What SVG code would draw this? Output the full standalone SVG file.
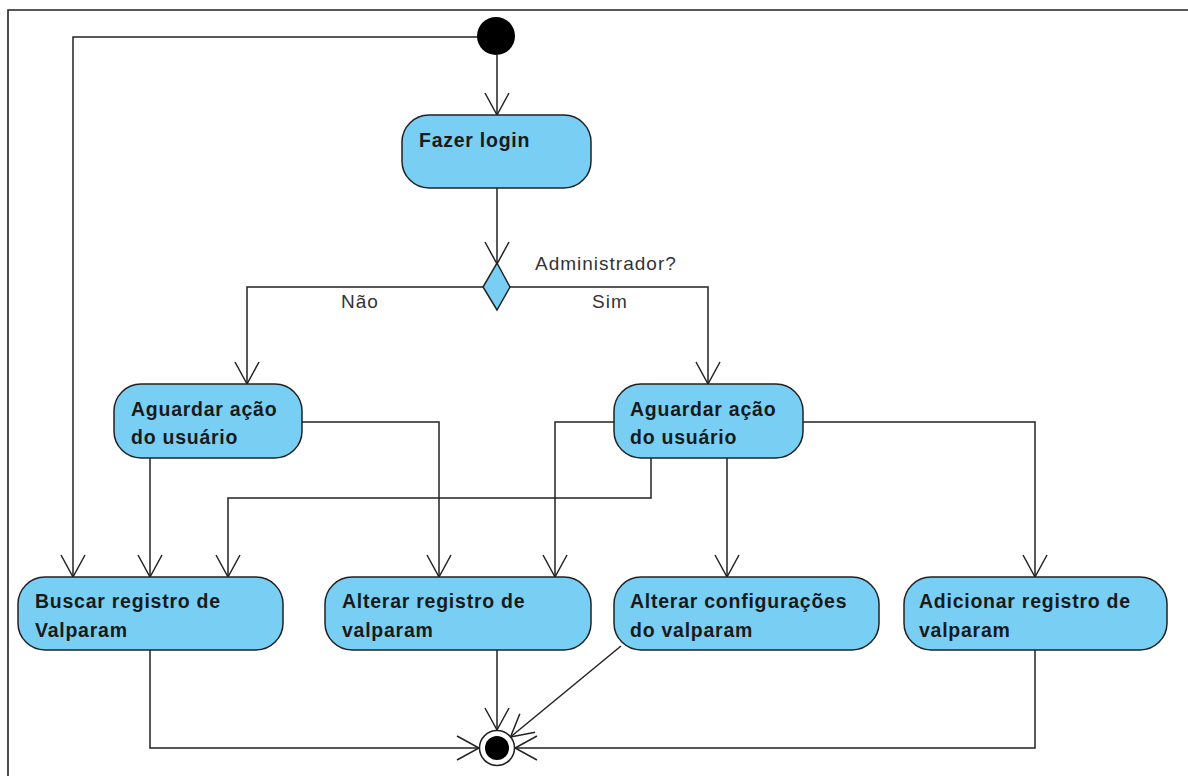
<svg xmlns="http://www.w3.org/2000/svg" width="1188" height="776" viewBox="0 0 1188 776">
  <style>
    .frame { fill: none; stroke: #222; stroke-width: 1.6; }
    .action { fill: #79CFF3; stroke: #222; stroke-width: 1.5; }
    .label { font-family: "Liberation Sans", Arial, sans-serif; font-size: 19.5px; font-weight: bold; fill: #1a1a1a; letter-spacing: 0.75px; }
    .guard { font-family: "Liberation Sans", Arial, sans-serif; font-size: 19px; fill: #333; letter-spacing: 1px; }
    .flow { fill: none; stroke: #222; stroke-width: 1.5; marker-end: url(#open); }
  </style>
  <defs>
    <marker id="open" markerUnits="userSpaceOnUse" viewBox="-24 -14 26 28" markerWidth="26" markerHeight="28" refX="0" refY="0" orient="auto">
      <path d="M-22,-12 L0,0 L-22,12" fill="none" stroke="#222" stroke-width="1.5"/>
    </marker>
  </defs>

  <rect width="1188" height="776" fill="#fff"/>
  <path class="frame" d="M8,776 L8,10 L1188,10"/>

  <!-- control flows -->
  <g id="connectors">
    <path class="flow" d="M497,55 L497,115"/>
    <path class="flow" d="M478,37 L73,37 L73,577"/>
    <path class="flow" d="M497,188 L497,264"/>
    <path class="flow" d="M483,287 L247,287 L247,384"/>
    <path class="flow" d="M510,287 L708,287 L708,384"/>
    <path class="flow" d="M150,458 L150,577"/>
    <path class="flow" d="M302,422 L439,422 L439,577"/>
    <path class="flow" d="M651,458 L651,498 L228,498 L228,577"/>
    <path class="flow" d="M614,422 L555,422 L555,577"/>
    <path class="flow" d="M727,458 L727,577"/>
    <path class="flow" d="M803,422 L1035,422 L1035,577"/>
    <path class="flow" d="M150,650 L150,748 L479,748"/>
    <path class="flow" d="M497,650 L497,730"/>
    <path class="flow" d="M621,646 L510.5,737"/>
    <path class="flow" d="M1035,650 L1035,748 L515,748"/>
  </g>

  <g id="start">
    <circle cx="496" cy="36" r="19" fill="#000"/>
  </g>

  <g id="fazer-login">
    <rect class="action" x="402" y="115" width="189" height="73" rx="27"/>
    <text class="label" x="419" y="147">Fazer login</text>
  </g>

  <g id="decision">
    <polygon points="497,263 510,287 497,310 483,287" fill="#79CFF3" stroke="#222" stroke-width="1.5"/>
    <text class="guard" x="535" y="270">Administrador?</text>
    <text class="guard" x="341" y="308">Não</text>
    <text class="guard" x="592" y="308">Sim</text>
  </g>

  <g id="aguardar-nao">
    <rect class="action" x="114" y="384" width="188" height="74" rx="27"/>
    <text class="label" x="131" y="416">Aguardar ação</text>
    <text class="label" x="131" y="444">do usuário</text>
  </g>

  <g id="aguardar-sim">
    <rect class="action" x="614" y="384" width="189" height="74" rx="27"/>
    <text class="label" x="630" y="416">Aguardar ação</text>
    <text class="label" x="630" y="444">do usuário</text>
  </g>

  <g id="buscar">
    <rect class="action" x="18" y="577" width="265" height="73" rx="27"/>
    <text class="label" x="35" y="608">Buscar registro de</text>
    <text class="label" x="35" y="637">Valparam</text>
  </g>

  <g id="alterar-registro">
    <rect class="action" x="325" y="577" width="266" height="73" rx="27"/>
    <text class="label" x="342" y="608">Alterar registro de</text>
    <text class="label" x="342" y="637">valparam</text>
  </g>

  <g id="alterar-config">
    <rect class="action" x="614" y="577" width="265" height="73" rx="27"/>
    <text class="label" x="630" y="608">Alterar configurações</text>
    <text class="label" x="630" y="637">do valparam</text>
  </g>

  <g id="adicionar">
    <rect class="action" x="904" y="577" width="263" height="73" rx="27"/>
    <text class="label" x="919" y="608">Adicionar registro de</text>
    <text class="label" x="919" y="637">valparam</text>
  </g>

  <g id="final">
    <circle cx="497" cy="748" r="17.5" fill="#fff" stroke="#222" stroke-width="1.5"/>
    <circle cx="497" cy="748" r="12" fill="#000"/>
  </g>
</svg>
